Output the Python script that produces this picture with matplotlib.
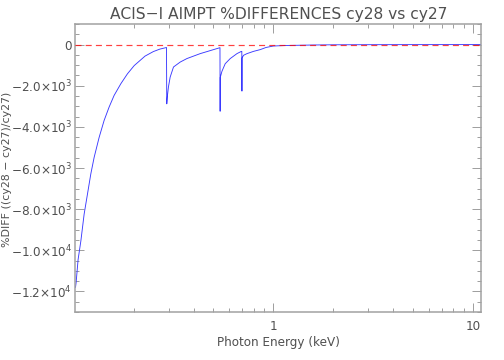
import numpy as np
import matplotlib
matplotlib.use('Agg')
import matplotlib.pyplot as plt
from matplotlib.ticker import FixedLocator, NullFormatter, FixedFormatter

# energia (keV) y diferencia porcentual
energy = [0.1020, 0.1027, 0.1051, 0.1085, 0.1127, 0.1171, 0.1217, 0.1265,
          0.1340, 0.1419, 0.1503, 0.1593, 0.1722, 0.1858, 0.2009, 0.2276,
          0.2505, 0.2700, 0.2866, 0.2915,
          0.2925, 0.2950, 0.2983, 0.3042, 0.3161, 0.3415, 0.3690, 0.4301,
          0.5219, 0.5405,
          0.5415, 0.5422, 0.5529, 0.5742, 0.6084, 0.6575, 0.6887, 0.6955,
          0.6965, 0.6975, 0.7096, 0.738, 0.796, 0.860, 0.92, 1.0, 1.15,
          1.315, 1.59, 2.0, 3.0, 5.0, 11.0]
pct_diff = [-11800, -11580, -10450, -9550, -8240, -7270, -6290, -5480,
            -4510, -3690, -3040, -2470, -1900, -1420, -1020, -560,
            -340, -220, -160, -140,
            -2880, -2450, -2050, -1580, -1090, -850, -680, -440,
            -195, -150,
            -3240, -1600, -1300, -930, -680, -440, -340, -330,
            -2260, -650, -520, -440, -330, -245, -140, -70, -45,
            -35, -20, -10, -5, -2, 0]

y_ticks = [0, -2000, -4000, -6000, -8000, -10000, -12000]
y_labels = ['0', r'$-2.0{\times}10^{3}$', r'$-4.0{\times}10^{3}$',
            r'$-6.0{\times}10^{3}$', r'$-8.0{\times}10^{3}$',
            r'$-1.0{\times}10^{4}$', r'$-1.2{\times}10^{4}$']
x_ticks = [1, 10]
x_labels = ['1', '10']

plt.rcParams['mathtext.default'] = 'regular'
plt.rcParams['font.family'] = 'DejaVu Sans'
txt = '#505050'
axc = '#a0a0a0'

fig = plt.figure(figsize=(7, 5), dpi=72)
ax = fig.add_axes([0.1498, 0.1333, 0.8046, 0.8])

ax.plot(energy, pct_diff, color='#3a3aff', lw=0.9, zorder=2)
ax.plot([0.102, 11.0], [0, 0], color='red', lw=1.2, ls=(0, (5, 3.5)),
        zorder=3, alpha=0.75)

ax.set_xscale('log')
ax.set_xlim(0.102, 11.0)
ax.set_ylim(-13000, 1000)

ax.xaxis.set_major_locator(FixedLocator(x_ticks))
ax.xaxis.set_major_formatter(FixedFormatter(x_labels))
minors = [m * 10.0 ** d for d in (-1, 0) for m in range(2, 10)]
ax.xaxis.set_minor_locator(FixedLocator(minors))
ax.xaxis.set_minor_formatter(NullFormatter())

ax.yaxis.set_major_locator(FixedLocator(y_ticks))
ax.yaxis.set_major_formatter(FixedFormatter(y_labels))
ax.yaxis.set_minor_locator(FixedLocator(np.arange(-13000, 1001, 500)))

ax.tick_params(which='both', direction='in', top=True, right=True,
               color=axc, labelcolor=txt, labelsize=12)
ax.tick_params(which='major', length=9, width=1)
ax.tick_params(which='minor', length=4, width=1)
ax.tick_params(axis='x', pad=8)
for s in ax.spines.values():
    s.set_color(axc)
    s.set_linewidth(1.5)

ax.set_title('ACIS\u2212I AIMPT %DIFFERENCES cy28 vs cy27', color=txt,
             fontsize=15.5, pad=5)
ax.set_xlabel('Photon Energy (keV)', color=txt, fontsize=12, labelpad=3)
fig.text(0.013, 0.53, '%DIFF ((cy28 \u2212 cy27)/cy27)', rotation=90,
         color=txt, fontsize=11, ha='center', va='center')

fig.savefig('out.png', dpi=72)
